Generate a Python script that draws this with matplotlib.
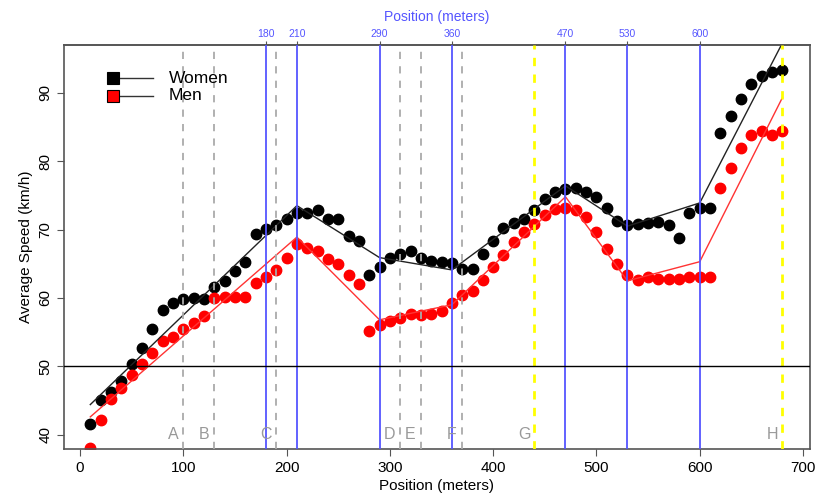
import matplotlib
matplotlib.use('Agg')
import matplotlib.pyplot as plt

plt.rcParams['font.family'] = ['Liberation Sans', 'DejaVu Sans']

# positions of the measurement points (m)
position = list(range(10, 690, 10))

women = [41.6, 45.0, 46.2, 47.8, 50.4, 52.7, 55.5, 58.2, 59.3, 59.9,
         60.0, 59.9, 61.6, 62.5, 63.9, 65.3, 69.3, 70.1, 70.6, 71.5,
         72.4, 72.4, 72.8, 71.5, 71.5, 69.1, 68.3, 63.3, 64.5, 65.8,
         66.4, 66.8, 65.8, 65.4, 65.2, 65.1, 64.3, 64.2, 66.4, 68.4,
         70.2, 71.0, 71.6, 72.9, 74.5, 75.5, 76.0, 76.1, 75.5, 74.7,
         73.2, 71.3, 70.6, 70.8, 71.0, 71.1, 70.6, 68.8, 72.4, 73.1,
         73.2, 84.2, 86.6, 89.1, 91.3, 92.5, 93.0, 93.3]

men = [38.0, 42.1, 45.2, 46.8, 48.7, 50.4, 51.9, 53.7, 54.3, 55.5,
       56.3, 57.3, 60.0, 60.2, 60.1, 60.2, 62.2, 63.0, 64.1, 65.9,
       67.9, 67.3, 66.8, 65.7, 64.9, 63.4, 62.1, 55.1, 56.1, 56.6,
       57.1, 57.6, 57.5, 57.6, 58.1, 59.2, 60.4, 61.0, 62.6, 64.5,
       66.3, 68.2, 69.6, 70.8, 72.1, 73.0, 73.1, 72.8, 71.8, 69.7,
       67.2, 65.0, 63.3, 62.6, 63.1, 62.8, 62.7, 62.8, 63.1, 63.1,
       63.0, 76.1, 79.0, 82.0, 83.8, 84.4, 83.9, 84.4]

# piecewise linear fits
knots = [10, 210, 290, 360, 470, 530, 600, 680]
women_fit = [44.4, 73.5, 65.9, 64.1, 76.4, 70.5, 73.9, 97.3]
men_fit = [42.6, 68.9, 56.8, 59.0, 74.8, 62.5, 65.3, 89.3]

blue_pos = [180, 210, 290, 360, 470, 530, 600]
gray_pos = [100, 130, 190, 310, 330, 370]
yellow_pos = [440, 680]

letters = ['A', 'B', 'C', 'D', 'E', 'F', 'G', 'H']
letter_pos = [90, 120, 180, 300, 320, 360, 430, 670]

BLUE = '#5555ff'
fig = plt.figure(figsize=(8.17, 4.99), dpi=100)
ax = fig.add_axes([0.0783, 0.1002, 0.9131, 0.8096])

ax.plot(position, women, 'o', color='black', ms=7.5, zorder=2)
ax.plot(position, men, 'o', color='red', ms=7.5, mec='red', zorder=2)
ax.plot(knots, women_fit, color='#222222', lw=1.0, zorder=2)
ax.plot(knots, men_fit, color='#ff3333', lw=1.0, zorder=2)

for x in gray_pos:
    ax.axvline(x, color='#aaaaaa', lw=1.3, ls=(0, (4, 4)), zorder=3)
for x in blue_pos:
    ax.axvline(x, color=BLUE, lw=1.3, zorder=3)
for x in yellow_pos:
    ax.axvline(x, color='#ffff00', lw=2.0, ls=(0, (3, 3)), zorder=3)
ax.axhline(50, color='black', lw=1.0, zorder=3)

for s, x in zip(letters, letter_pos):
    ax.text(x, 40, s, color='#999999', fontsize=11.5, ha='center', va='center')

ax.set_xlim(-15.5, 706.7)
ax.set_ylim(37.9, 97.0)
ax.set_xticks(range(0, 800, 100))
ax.set_yticks(range(40, 100, 10))
ax.tick_params(axis='both', labelsize=11, length=5, color='#555555')
for lab in ax.get_yticklabels():
    lab.set_rotation(90)
    lab.set_va('center')
ax.set_xlabel('Position (meters)', fontsize=11, labelpad=3)
ax.set_ylabel('Average Speed (km/h)', fontsize=11, labelpad=4)
for sp in ax.spines.values():
    sp.set_color('#555555')
    sp.set_linewidth(1.2)

top = ax.secondary_xaxis('top')
top.set_xticks(blue_pos)
top.tick_params(labelsize=7.5, labelcolor=BLUE, length=3, color='#555555', pad=1)
top.set_xlabel('Position (meters)', color=BLUE, fontsize=10, labelpad=6)
top.spines['top'].set_color('#555555')
top.spines['top'].set_linewidth(1.2)

# legend, no frame
for yf, c, name in [(0.918, 'black', 'Women'), (0.874, 'red', 'Men')]:
    ax.plot([0.075, 0.1193], [yf, yf], color='#333333', lw=1.0,
            transform=ax.transAxes)
    ax.plot([0.0657], [yf], marker='s', ms=9, color=c, mec='black',
            mew=0.8, transform=ax.transAxes)
    ax.text(0.1408, yf, name, fontsize=12.5, va='center',
            transform=ax.transAxes)

fig.savefig('out.png', dpi=100)
